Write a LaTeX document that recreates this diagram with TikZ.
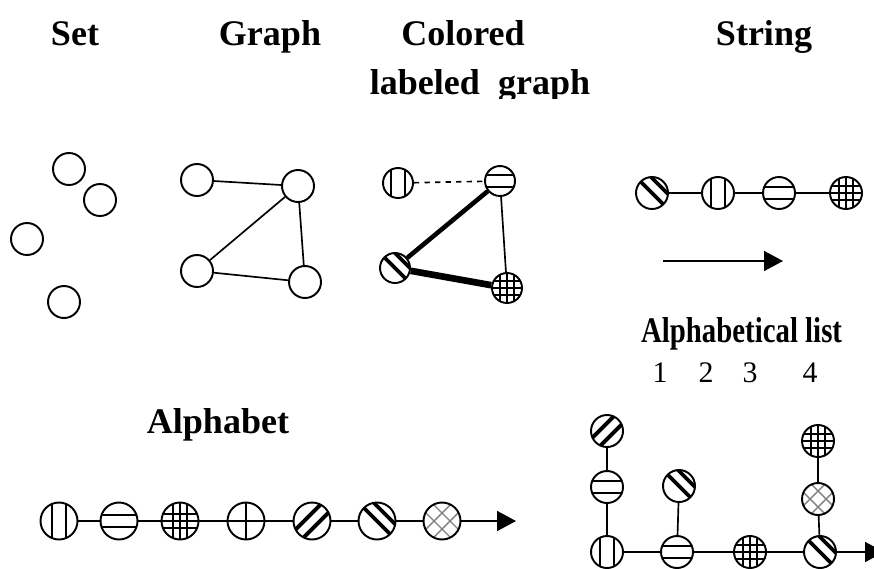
\documentclass[tikz,border=0pt]{standalone}
\usepackage{fontspec}
\setmainfont{Liberation Serif}
\usetikzlibrary{arrows.meta}

\tikzset{
  tok/.style={circle, draw, line width=1.1pt, minimum size=0.64cm, inner sep=0pt},
  big/.style={minimum size=0.74cm},
  small/.style={minimum size=0.6cm},
  stripe/.style={line width=1.4pt, shift={(path picture bounding box.center)}},
  thin stripe/.style={line width=0.8pt, shift={(path picture bounding box.center)}},
  vtok/.style={tok, path picture={\foreach \d in {-7,7} \draw[stripe] (\d,-25) -- (\d,25);}},
  htok/.style={tok, path picture={\foreach \d in {-6,6} \draw[stripe] (-25,\d) -- (25,\d);}},
  gridtok/.style={tok, path picture={\foreach \d in {-7,0,7} {\draw[thin stripe] (\d,-25) -- (\d,25); \draw[thin stripe] (-25,\d) -- (25,\d);}}},
  plustok/.style={tok, path picture={\draw[thin stripe] (0,-25) -- (0,25); \draw[thin stripe] (-25,0) -- (25,0);}},
  netok/.style={tok, path picture={\foreach \d in {-8,8} \draw[stripe, line width=2.2pt] (\d-25,25) -- (\d+25,-25);}},
  nwtok/.style={tok, path picture={\foreach \d in {0,15} \draw[stripe, line width=2.2pt] (\d-25,-25) -- (\d+25,25);}},
  xtok/.style={tok, path picture={\foreach \d in {-8,8} {\draw[thin stripe, gray] (\d-25,25) -- (\d+25,-25); \draw[thin stripe, gray] (\d-25,-25) -- (\d+25,25);}}},
  link/.style={line width=0.95pt},
  tip/.style={link, -{Triangle[length=0.38cm, width=0.4cm]}},
  title/.style={font=\fontsize{20.5}{24}\selectfont\bfseries, anchor=base},
  num/.style={font=\fontsize{17}{20}\selectfont, anchor=base}
}

\begin{document}
\begin{tikzpicture}[x=0.02cm, y=-0.02cm]
  \useasboundingbox (0,0) rectangle (874,568);

  % titles
  \node[title] (tset) at (75,45) {Set};
  \node[title] (tgraph) at (270,45) {Graph};
  \node[title] (tcol) at (463,45) {Colored};
  \begin{scope}
    \clip (300,50) rectangle (700,98);
    \node[title] (tlab) at (480,94) {labeled\ \ graph};
  \end{scope}
  \node[title] (tstr) at (764,45) {String};
  \node[title] (talph) at (218,433) {Alphabet};
  \node[title, anchor=base east, xscale=0.8] (tlist) at (847,342) {Alphabetical list};
  \foreach \n/\x in {1/660, 2/706, 3/750, 4/810}
    \node[num] (n\n) at (\x,382) {\n};

  % set
  \node[tok] (s1) at (69,169) {};
  \node[tok] (s2) at (100,200) {};
  \node[tok] (s3) at (27,239) {};
  \node[tok] (s4) at (64,302) {};

  % graph
  \node[tok] (g1) at (197,180) {};
  \node[tok] (g2) at (298,186) {};
  \node[tok] (g3) at (197,271) {};
  \node[tok] (g4) at (305,282) {};
  \draw[link] (g1) -- (g2) (g2) -- (g3) (g2) -- (g4) (g3) -- (g4);

  % colored labeled graph
  \node[vtok, small] (c1) at (398,183) {};
  \node[htok, small] (c2) at (500,181) {};
  \node[nwtok, small] (c3) at (395,268) {};
  \node[gridtok, small] (c4) at (507,288) {};
  \draw[link, dashed] (c1) -- (c2);
  \draw[link] (c2) -- (c4);
  \draw[line width=2.6pt] (c2) -- (c3);
  \draw[line width=3.8pt] (c3) -- (c4);

  % string
  \node[nwtok] (t1) at (652,193) {};
  \node[vtok] (t2) at (718,193) {};
  \node[htok] (t3) at (779,193) {};
  \node[gridtok] (t4) at (846,193) {};
  \draw[link] (t1) -- (t2) -- (t3) -- (t4);
  \coordinate (ta) at (663,261);
  \coordinate (tb) at (783,261);
  \draw[tip] (ta) -- (tb);

  % alphabet
  \node[vtok, big] (a1) at (59,521) {};
  \node[htok, big] (a2) at (119,521) {};
  \node[gridtok, big] (a3) at (180,521) {};
  \node[plustok, big] (a4) at (246,521) {};
  \node[netok, big] (a5) at (312,521) {};
  \node[nwtok, big] (a6) at (377,521) {};
  \node[xtok, big] (a7) at (442,521) {};
  \coordinate (aend) at (516,521);
  \draw[link] (a1) -- (a2) -- (a3) -- (a4) -- (a5) -- (a6) -- (a7);
  \draw[tip] (a7) -- (aend);

  % alphabetical list
  \node[vtok] (l1) at (607,552) {};
  \node[htok] (l2) at (607,487) {};
  \node[netok] (l3) at (607,431) {};
  \node[htok] (l4) at (677,552) {};
  \node[nwtok] (l5) at (679,486) {};
  \node[gridtok] (l6) at (750,552) {};
  \node[nwtok] (l7) at (820,552) {};
  \node[xtok] (l8) at (818,499) {};
  \node[gridtok] (l9) at (818,441) {};
  \coordinate (lend) at (884,552);
  \draw[link] (l1) -- (l2) -- (l3) (l4) -- (l5) (l7) -- (l8) -- (l9);
  \draw[link] (l1) -- (l4) -- (l6) -- (l7);
  \draw[tip] (l7) -- (lend);
\end{tikzpicture}
\end{document}
